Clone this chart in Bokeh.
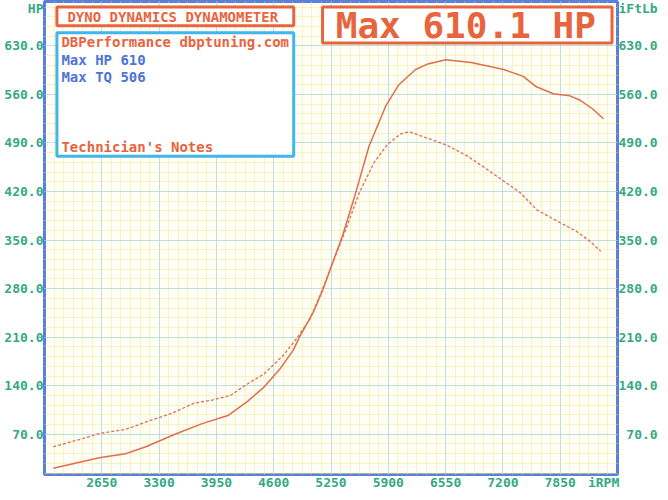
from bokeh.plotting import figure
from bokeh.models import (Range1d, FixedTicker, LinearAxis, CustomJSTickFormatter,
                          Label, BoxAnnotation)
from bokeh.embed import file_html
from bokeh.resources import INLINE

# ---- data read from the dyno sheet ----
hp_rpm = [2100, 2620, 2920, 3150, 3480, 3780, 4080, 4300, 4490, 4670, 4820, 4900,
          5050, 5160, 5250, 5380, 5530, 5680, 5870, 6020, 6210, 6350, 6550, 6840,
          7210, 7430, 7580, 7770, 7960, 8070, 8220, 8340]
hp = [21, 36, 42, 52, 70, 85, 97, 117, 138, 164, 191, 212,
      246, 279, 311, 356, 418, 485, 543, 574, 596, 604, 610, 606,
      596, 586, 571, 561, 558, 552, 539, 525]

tq_rpm = [2100, 2440, 2620, 2920, 3180, 3440, 3700, 3890, 4110, 4270, 4490, 4710,
          4860, 5010, 5140, 5250, 5420, 5570, 5740, 5890, 6040, 6140, 6320, 6560,
          6800, 7020, 7210, 7400, 7580, 7850, 8030, 8180, 8310]
tq = [52, 64, 71, 77, 89, 100, 115, 119, 126, 140, 157, 184,
      208, 236, 275, 311, 366, 418, 462, 488, 503, 506, 498, 487,
      471, 452, 435, 418, 394, 375, 363, 349, 334]

x_ticks = [2650, 3300, 3950, 4600, 5250, 5900, 6550, 7200, 7850]
y_ticks = [70, 140, 210, 280, 350, 420, 490, 560, 630]
x_unit_pos, x_unit = 8342, "iRPM"
y_unit_pos, y_left_unit, y_right_unit = 685, "HP", "iFtLb"
x_min, x_max = 2000, 8500
y_min, y_max = 12, 694

header_text = "DYNO DYNAMICS DYNAMOMETER"
shop_text = "DBPerformance dbptuning.com"
max_hp_text = "Max HP 610"
max_tq_text = "Max TQ 506"
notes_text = "Technician's Notes"
big_text = "Max 610.1 HP"

# ---- styles ----
FONT = "DejaVu Sans Mono"
GREEN = "#35a984"
ORANGE = "#e8643c"
BLUE_TXT = "#4f74d6"
FRAME_BLUE = "#5a80da"
BOX_BLUE = "#3fb6ec"
CURVE = "#de6e4c"
TICK_SIZE = "13px"

x_minor = [x_min + i * 650 / 6 for i in range(1, 60)]
y_minor = [i * 14 for i in range(1, 50)]

p = figure(width=660, height=492, output_backend="svg", toolbar_location=None, title=None,
           x_range=Range1d(x_min, x_max), y_range=Range1d(y_min, y_max),
           min_border_left=44, min_border_right=40, min_border_top=1, min_border_bottom=16,
           background_fill_color="#fffff7", border_fill_color="white")

grid_xt = FixedTicker(ticks=x_ticks, minor_ticks=x_minor)
grid_yt = FixedTicker(ticks=y_ticks, minor_ticks=y_minor)
axis_xt = FixedTicker(ticks=x_ticks + [x_unit_pos])
axis_yt = FixedTicker(ticks=y_ticks + [y_unit_pos])
p.xaxis.ticker = axis_xt
p.yaxis.ticker = axis_yt
p.xgrid.ticker = grid_xt
p.ygrid.ticker = grid_yt

for g in (p.xgrid, p.ygrid):
    g.grid_line_color = "#86cdf0"
    g.grid_line_dash = "1 1"
    g.grid_line_width = 1
    g.minor_grid_line_color = "#f0e68a"
    g.minor_grid_line_dash = "1 1"
    g.minor_grid_line_width = 1

p.outline_line_color = FRAME_BLUE
p.outline_line_width = 3

right_axis = LinearAxis(ticker=axis_yt)
p.add_layout(right_axis, "right")

p.yaxis[0].formatter = CustomJSTickFormatter(
    args=dict(lim=y_ticks[-1], unit=y_left_unit),
    code="return tick > lim ? unit : tick.toFixed(1);")
right_axis.formatter = CustomJSTickFormatter(
    args=dict(lim=y_ticks[-1], unit=y_right_unit),
    code="if (tick > lim) { return unit; } var s = tick.toFixed(1); "
         "return s.length < 5 ? '\\u2007' + s : s;")
p.xaxis.formatter = CustomJSTickFormatter(
    args=dict(lim=x_ticks[-1], unit=x_unit),
    code="return tick > lim ? unit : tick.toFixed(0);")

for ax in list(p.xaxis) + list(p.yaxis) + [right_axis]:
    ax.axis_line_color = None
    ax.major_tick_line_color = None
    ax.minor_tick_line_color = None
    ax.major_tick_out = 0
    ax.major_tick_in = 0
    ax.minor_tick_out = 0
    ax.minor_tick_in = 0
    ax.major_label_text_font = FONT
    ax.major_label_text_font_style = "bold"
    ax.major_label_text_font_size = TICK_SIZE
    ax.major_label_text_color = GREEN
    ax.major_label_standoff = 1
p.xaxis.major_label_standoff = 0
right_axis.major_label_standoff = 1

# ---- curves ----
p.line(tq_rpm, tq, line_color=CURVE, line_width=1.3, line_dash="3 2")
p.line(hp_rpm, hp, line_color=CURVE, line_width=1.5)

# ---- boxes ----
p.add_layout(BoxAnnotation(left=2141, right=4827, top=686, bottom=659,
                           fill_color="white", fill_alpha=1,
                           line_color=ORANGE, line_width=3, line_alpha=1))
p.add_layout(BoxAnnotation(left=2141, right=4827, top=649, bottom=471,
                           fill_color="white", fill_alpha=1,
                           line_color=BOX_BLUE, line_width=3, line_alpha=1))
p.add_layout(BoxAnnotation(left=5154, right=8438, top=686, bottom=634,
                           fill_color="white", fill_alpha=1,
                           line_color=ORANGE, line_width=3, line_alpha=1))


def txt(x, y, s, color, size="14px", align="left", base="middle"):
    p.add_layout(Label(x=x, y=y, text=s, text_color=color, text_font=FONT,
                       text_font_style="bold", text_font_size=size,
                       text_align=align, text_baseline=base))


txt(2260, 672, header_text, ORANGE)
txt(2192, 635, shop_text, ORANGE)
txt(2192, 609, max_hp_text, BLUE_TXT)
txt(2192, 585, max_tq_text, BLUE_TXT)
txt(2192, 484, notes_text, ORANGE)
txt(6779, 659, big_text, ORANGE, size="36px", align="center")

open("out.html", "w").write(file_html(p, INLINE))
